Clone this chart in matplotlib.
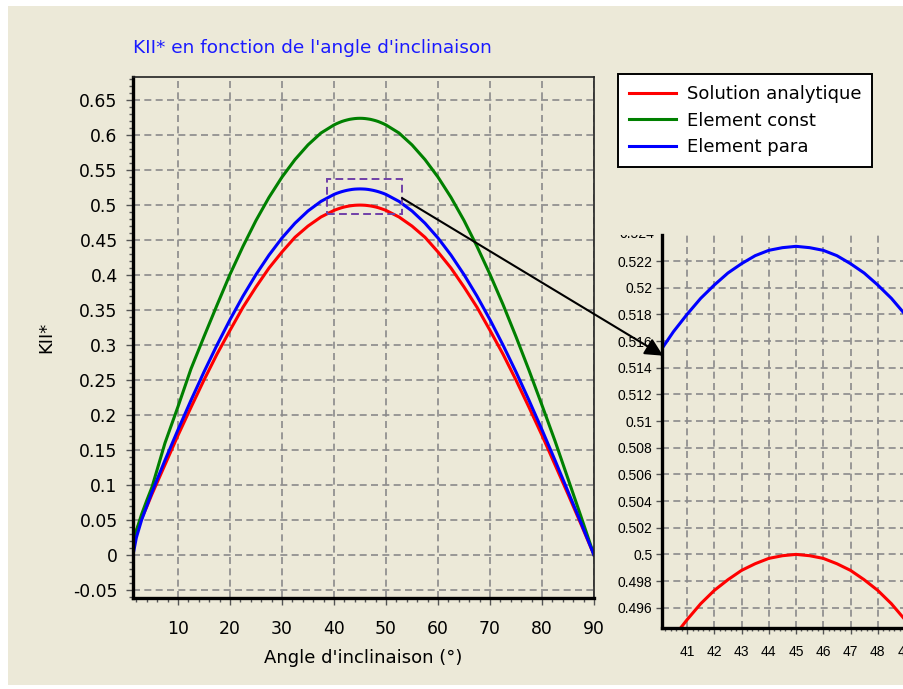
import matplotlib
matplotlib.use("Agg")
import matplotlib.pyplot as plt
from matplotlib.patches import Rectangle, ConnectionPatch
from matplotlib.ticker import MultipleLocator, FuncFormatter
from matplotlib.transforms import Bbox, TransformedBbox

# angle d'inclinaison (deg) and KII* values
theta = [1.35, 2, 3, 4, 5, 7.5, 10, 12.5, 15, 17.5, 20, 22.5, 25, 27.5, 30,
         32.5, 35, 37.5, 40, 40.5, 41, 41.5, 42, 42.5, 43, 43.5, 44, 44.5,
         45, 45.5, 46, 46.5, 47, 47.5, 48, 48.5, 49, 49.5, 50, 52.5,
         55, 57.5, 60, 62.5, 65, 67.5, 70, 72.5, 75, 77.5, 80, 82.5, 85,
         87.5, 90]
analytique = [0.025, 0.035, 0.052, 0.069, 0.087, 0.129, 0.171, 0.211, 0.250,
              0.287, 0.321, 0.354, 0.383, 0.410, 0.433, 0.454, 0.470, 0.483,
              0.4924, 0.4938, 0.4951, 0.4963, 0.4973, 0.4981, 0.4988, 0.4993,
              0.4997, 0.4999, 0.5000, 0.4999, 0.4997, 0.4993, 0.4988, 0.4981,
              0.4973, 0.4963, 0.4951, 0.4938, 0.4924, 0.483, 0.470, 0.454,
              0.433, 0.410, 0.383, 0.354, 0.321, 0.287, 0.250, 0.211, 0.171,
              0.129, 0.087, 0.044, 0.000]
elem_const = [0.015, 0.035, 0.058, 0.078, 0.097, 0.160, 0.212, 0.266, 0.312,
              0.357, 0.401, 0.441, 0.478, 0.511, 0.540, 0.565, 0.586, 0.603,
              0.6145, 0.6163, 0.6179, 0.6194, 0.6206, 0.6216, 0.6225, 0.6231,
              0.6236, 0.6239, 0.6240, 0.6239, 0.6236, 0.6231, 0.6225, 0.6216,
              0.6206, 0.6194, 0.6179, 0.6163, 0.6145, 0.603, 0.586, 0.565,
              0.540, 0.511, 0.478, 0.441, 0.401, 0.358, 0.312, 0.264, 0.214,
              0.163, 0.109, 0.055, 0.000]
elem_para = [0.000, 0.025, 0.050, 0.070, 0.090, 0.1354, 0.1789, 0.2211,
             0.2616, 0.3000, 0.3362, 0.3699, 0.4007, 0.4285, 0.4530, 0.4741,
             0.4916, 0.5053, 0.5152, 0.5167, 0.5180, 0.5192, 0.5202, 0.5211,
             0.5218, 0.5224, 0.5228, 0.5230, 0.5231, 0.5230, 0.5228, 0.5224,
             0.5218, 0.5211, 0.5202, 0.5192, 0.5180, 0.5167, 0.5152, 0.5053,
             0.4916, 0.4741, 0.4530, 0.4285, 0.4007, 0.3699, 0.3362, 0.3000,
             0.2616, 0.2211, 0.1789, 0.1354, 0.0908, 0.046, 0.000]

series = [analytique, elem_const, elem_para]
labels = ["Solution analytique", "Element const", "Element para"]
colors = ["#FF0000", "#008000", "#0000FF"]

W, H = 904, 689
BG = "#ECE9D8"
GRID = dict(color="#8A8A8A", linestyle=(0, (4.2, 2.6)), linewidth=1.2)
FS = 13
SMALL = "Liberation Sans"
SMALL_FS = 10


def fx(px):
    return px / W


def fy(py):
    return 1 - py / H


def fmt(v, pos=None):
    return f"{round(v, 6) + 0:g}"


plt.rcParams["font.family"] = ["DejaVu Sans"]

fig = plt.figure(figsize=(W / 100, H / 100), dpi=100, facecolor="white")
fig.patches.append(Rectangle((fx(8), fy(685)), 1.0, fy(6) - fy(685),
                             transform=fig.transFigure, facecolor=BG,
                             edgecolor="none", zorder=-10))

# main chart
ax = fig.add_axes([fx(133), fy(598), fx(594) - fx(133), fy(77) - fy(598)])
ax.set_facecolor(BG)
lines = []
for vals, lab, col in zip(series, labels, colors):
    ln, = ax.plot(theta, vals, color=col, lw=2.2, label=lab)
    lines.append(ln)
ax.set_xlim(theta[0], theta[-1])
ax.set_ylim(-0.0614, 0.683)
ax.xaxis.set_major_locator(MultipleLocator(10))
ax.xaxis.set_minor_locator(MultipleLocator(2))
ax.yaxis.set_major_locator(MultipleLocator(0.05))
ax.yaxis.set_minor_locator(MultipleLocator(0.01))
ax.yaxis.set_major_formatter(FuncFormatter(fmt))
ax.grid(True, which="major", **GRID)
ax.set_axisbelow(True)
ax.tick_params(which="major", direction="out", length=5, width=1,
               labelsize=12.4, color="#555555")
ax.tick_params(which="minor", direction="out", length=3, width=1,
               color="#555555")
ax.tick_params(axis="x", pad=11)
ax.tick_params(axis="y", pad=6)
for s in ("left", "bottom"):
    ax.spines[s].set_linewidth(2.4)
for s in ("top", "right"):
    ax.spines[s].set_linewidth(1.2)
    ax.spines[s].set_color("#222222")
ax.set_xlabel("Angle d'inclinaison (°)", fontsize=FS, labelpad=8)
ax.set_ylabel("KII*", fontsize=FS, labelpad=13)

fig.text(fx(133), fy(48), "KII* en fonction de l'angle d'inclinaison",
         color="#1A1AFF", fontsize=13.3, ha="left", va="center")

# zoom rectangle
ax.add_patch(Rectangle((38.65, 0.487), 14.43, 0.05, fill=False,
                       edgecolor="#7040A8", lw=1.4,
                       linestyle=(0, (4, 2.2)), zorder=5))

leg = fig.legend(lines, labels, loc="upper left",
                 bbox_to_anchor=(fx(618), fy(74)), borderaxespad=0,
                 fontsize=FS, frameon=True, fancybox=False,
                 facecolor="white", edgecolor="black", framealpha=1,
                 handlelength=2.6, handletextpad=0.6, labelspacing=0.48,
                 borderpad=0.6)
leg.get_frame().set_linewidth(1.4)

# zoomed view, cut by the figure edge
ax_in = fig.add_axes([fx(662), fy(628), fx(932.25) - fx(662), fy(235) - fy(628)])
ax_in.set_facecolor(BG)
for vals, col in zip(series, colors):
    ax_in.plot(theta, vals, color=col, lw=2.2)
ax_in.set_xlim(40.08, 50.0)
ax_in.set_ylim(0.49448, 0.52395)
ax_in.xaxis.set_major_locator(MultipleLocator(1))
ax_in.xaxis.set_minor_locator(MultipleLocator(0.2))
ax_in.yaxis.set_major_locator(MultipleLocator(0.002))
ax_in.yaxis.set_major_formatter(FuncFormatter(fmt))
ax_in.grid(True, which="major", **GRID)
ax_in.set_axisbelow(True)
ax_in.tick_params(which="major", direction="out", length=4, width=1,
                  color="#555555", pad=3, labelsize=SMALL_FS,
                  labelfontfamily=SMALL)
ax_in.tick_params(which="minor", direction="out", length=2.5, width=1,
                  color="#555555")
ax_in.tick_params(axis="x", pad=8)
for s in ("left", "bottom"):
    ax_in.spines[s].set_linewidth(2.4)
for s in ("top", "right"):
    ax_in.spines[s].set_visible(False)

# half-cut top label of the zoomed view
cut = fig.text(fx(654), fy(234), "0.524", ha="right", va="center",
               family=SMALL, fontsize=SMALL_FS)
cut.set_clip_box(TransformedBbox(Bbox([[0, 0], [1, fy(235)]]), fig.transFigure))

arrow = ConnectionPatch(xyA=(53.08, 0.51), coordsA=ax.transData,
                        xyB=(40.12, 0.5149), coordsB=ax_in.transData,
                        arrowstyle="-|>,head_length=0.6,head_width=0.3",
                        mutation_scale=18, color="black", lw=1.5, zorder=10)
fig.add_artist(arrow)

fig.savefig("out.png", dpi=100, facecolor=fig.get_facecolor())
